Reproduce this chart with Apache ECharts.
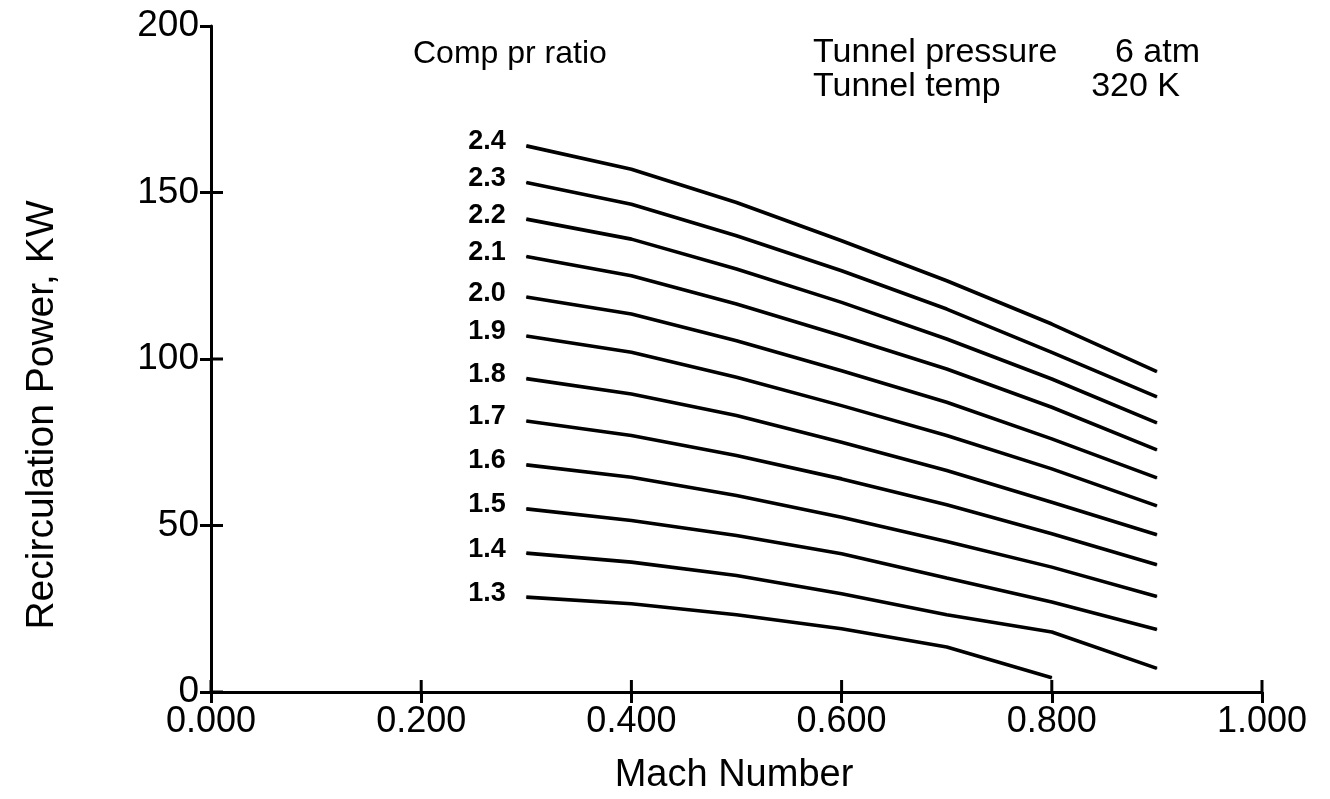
<!DOCTYPE html>
<html>
<head>
<meta charset="utf-8">
<script src="https://cdn.jsdelivr.net/npm/echarts@6/dist/echarts.min.js"></script>
<style>html,body{margin:0;padding:0;background:#fff}#c{width:1330px;height:799px}</style>
</head>
<body>
<div id="c"></div>
<script>
// Mach numbers (x)
var mach = [0.3, 0.4, 0.5, 0.6, 0.7, 0.8, 0.9];
// Compressor pressure ratios (series names)
var ratios = ['2.4','2.3','2.2','2.1','2.0','1.9','1.8','1.7','1.6','1.5','1.4','1.3'];
// Recirculation power, KW, for each ratio at the Mach numbers above
var p24 = [164, 157, 147, 135.5, 123.5, 110.5, 96.2];
var p23 = [153, 146.5, 137, 126.5, 115, 102, 88.6];
var p22 = [142, 136, 127, 117, 106, 94, 80.8];
var p21 = [130.8, 125, 116.5, 107, 97, 85.5, 72.7];
var p20 = [118.6, 113.5, 105.5, 96.5, 87, 76, 64.3];
var p19 = [106.9, 102, 94.5, 86, 77, 67, 55.9];
var p18 = [94.1, 89.5, 83, 75, 66.5, 57, 47.2];
var p17 = [81.4, 77, 71, 64, 56.2, 47.5, 38.2];
var p16 = [68.2, 64.5, 59, 52.5, 45.2, 37.5, 28.7];
var p15 = [55, 51.5, 47, 41.5, 34.2, 27, 18.8];
var p14 = [41.7, 39, 35, 29.5, 23.2, 18, 7.1];
var p13 = [28.5, 26.5, 23.2, 19, 13.5, 4.3];
var values = [p24, p23, p22, p21, p20, p19, p18, p17, p16, p15, p14, p13];
// Axis ticks
var xTickValues = [0, 0.2, 0.4, 0.6, 0.8, 1.0];
var yTickValues = [0, 50, 100, 150];
var xTicks = {min: 0, max: 1, interval: 0.2};
var yTicks = {min: 0, max: 200, interval: 50};

var FONT = 'Liberation Sans, Arial, sans-serif';
var chart = echarts.init(document.getElementById('c'), null, {renderer: 'canvas'});

var series = ratios.map(function (r, i) {
  var vals = values[i];
  var data = vals.map(function (v, j) {
    var item = {value: [mach[j], v]};
    if (j === 0) {
      item.label = {
        show: true, position: 'left', distance: 20, formatter: r,
        color: '#000', fontFamily: FONT, fontWeight: 'bold', fontSize: 27,
        offset: [0, -4]
      };
    }
    return item;
  });
  return {
    name: r, type: 'line', data: data, showSymbol: true, symbol: 'circle', symbolSize: 1,
    itemStyle: {color: '#000'},
    lineStyle: {color: '#000', width: 3.6}, animation: false, silent: true
  };
});

// inner halves of the crossing tick marks (symbols only, no connecting line)
function tickSeries(points, size, offset) {
  return {
    type: 'line', clip: false, animation: false,
    symbol: 'rect', symbolSize: size, symbolOffset: offset,
    itemStyle: {color: '#000'},
    lineStyle: {width: 0, opacity: 0},
    data: points
  };
}
series.push(tickSeries(xTickValues.map(function (v) { return [v, yTicks.min]; }), [3, 12], [0, -6]));
series.push(tickSeries(yTickValues.map(function (v) { return [xTicks.min, v]; }), [12, 3], [6, 0]));

var lineStyle = {color: '#000', width: 3};
var option = {
  animation: false,
  backgroundColor: '#fff',
  grid: {left: 211, right: 68, top: 26, bottom: 107, containLabel: false},
  xAxis: {
    type: 'value', min: xTicks.min, max: xTicks.max, interval: xTicks.interval,
    axisLine: {show: true, lineStyle: lineStyle, onZero: false},
    axisTick: {show: true, length: 11, lineStyle: lineStyle},
    axisLabel: {formatter: function (v) { return v.toFixed(3); }, color: '#000', fontFamily: FONT, fontSize: 36, margin: 12},
    splitLine: {show: false}
  },
  yAxis: {
    type: 'value', min: yTicks.min, max: yTicks.max, interval: yTicks.interval,
    axisLine: {show: true, lineStyle: lineStyle, onZero: false},
    axisTick: {show: true, length: 11, lineStyle: lineStyle},
    axisLabel: {color: '#000', fontFamily: FONT, fontSize: 37, margin: 12},
    splitLine: {show: false}
  },
  series: series,
  graphic: [
    {type: 'text', left: 413, top: 38, style: {text: 'Comp pr ratio', font: '32px ' + FONT, fill: '#000'}},
    {type: 'text', left: 813, top: 36, style: {text: 'Tunnel pressure', font: '34px ' + FONT, fill: '#000'}},
    {type: 'text', x: 1200, y: 36, style: {text: '6 atm', font: '34px ' + FONT, fill: '#000', textAlign: 'right', textVerticalAlign: 'top'}},
    {type: 'text', left: 813, top: 70, style: {text: 'Tunnel temp', font: '34px ' + FONT, fill: '#000'}},
    {type: 'text', x: 1180, y: 70, style: {text: '320 K', font: '34px ' + FONT, fill: '#000', textAlign: 'right', textVerticalAlign: 'top'}},
    {type: 'text', x: 734, y: 776, style: {text: 'Mach Number', font: '38px ' + FONT, fill: '#000', textAlign: 'center', textVerticalAlign: 'middle'}},
    {type: 'text', x: 42, y: 415, rotation: Math.PI / 2,
      style: {text: 'Recirculation Power, KW', font: '39px ' + FONT, fill: '#000', textAlign: 'center', textVerticalAlign: 'middle'}}
  ]
};
chart.setOption(option);
</script>
</body>
</html>
